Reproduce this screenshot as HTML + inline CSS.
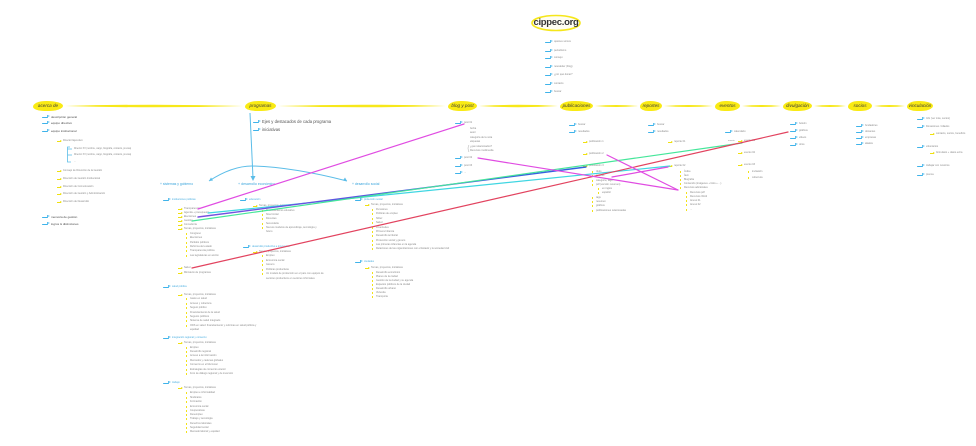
<!DOCTYPE html>
<html><head><meta charset="utf-8">
<style>
*{margin:0;padding:0;box-sizing:border-box}
body{width:976px;height:446px;background:#fff;position:relative;overflow:hidden;font-family:"Liberation Sans",sans-serif}
.a{position:absolute;white-space:nowrap;line-height:4px;height:4px;font-size:2.5px;color:#8a8a8a}
.ib{padding-left:9px}
.ib::before{content:"";position:absolute;left:0;top:1.6px;width:6px;height:1px;background:#3fb3ea;border-radius:1px}
.ib::after{content:"";position:absolute;left:5px;top:0.4px;border-left:3px solid #3fb3ea;border-top:1.7px solid transparent;border-bottom:1.7px solid transparent}
.iy{padding-left:6px}
.iy::before{content:"";position:absolute;left:0;top:1.6px;width:3.5px;height:1px;background:#efe010}
.iy::after{content:"";position:absolute;left:3px;top:0.7px;border-left:2px solid #efe010;border-top:1.4px solid transparent;border-bottom:1.4px solid transparent}
.is{padding-left:4px}
.is::before{content:"";position:absolute;left:0;top:0.8px;width:1px;height:2.6px;background:#f2e21a}
.dk{color:#4a4a4a;font-size:3px}
.bl{color:#4aaee0}
.sh{position:absolute;white-space:nowrap;font-size:3.4px;color:#3aa5dc;line-height:5px}
.h{position:absolute;top:101px;height:10px;background:#f9ea14;border-radius:45% 55% 50% 40%/60% 50% 55% 45%;font-size:4.6px;font-style:italic;color:#3a3a3a;text-align:center;line-height:10px;white-space:nowrap}
</style></head><body>

<svg width="976" height="446" style="position:absolute;left:0;top:0">
<ellipse cx="556" cy="23" rx="24" ry="7.5" fill="#fffef2" stroke="#f5e61a" stroke-width="1.6"/>
</svg>
<div style="position:absolute;left:532px;top:17px;width:48px;text-align:center;font-size:9.5px;font-weight:bold;color:#333;line-height:12px;letter-spacing:-0.3px">cippec.org</div>

<div class="a ib" style="left:545px;top:40px">quiénes somos</div>
<div class="a ib" style="left:545px;top:49px">periodismo</div>
<div class="a ib" style="left:545px;top:56px">consejo</div>
<div class="a ib" style="left:545px;top:65px">newsletter (blog)</div>
<div class="a ib" style="left:545px;top:73px">¿por qué donar?</div>
<div class="a ib" style="left:545px;top:82px">contacto</div>
<div class="a ib" style="left:545px;top:90px">buscar</div>

<svg width="976" height="446" style="position:absolute;left:0;top:0">
<g fill="#f7e81a">
<path d="M65 106 Q154 103.4 243 106 Q154 108.6 65 106Z"/>
<path d="M278 106 Q362 103.4 446 106 Q362 108.6 278 106Z"/>
<path d="M479 106 Q518 103.6 558 106 Q518 108.4 479 106Z"/>
<path d="M595 106 Q616 104 638 106 Q616 108 595 106Z"/>
<path d="M664 106 Q688 104 713 106 Q688 108 664 106Z"/>
<path d="M742 106 Q761 104 781 106 Q761 108 742 106Z"/>
<path d="M814 106 Q830 104 846 106 Q830 108 814 106Z"/>
<path d="M874 106 Q889 104 905 106 Q889 108 874 106Z"/>
</g>
</svg>

<div class="h" style="left:33px;width:30px">acerca de</div>
<div class="h" style="left:245px;width:31px">programas</div>
<div class="h" style="left:448px;width:29px">blog y post</div>
<div class="h" style="left:560px;width:33px">publicaciones</div>
<div class="h" style="left:640px;width:22px">reportes</div>
<div class="h" style="left:715px;width:25px">eventos</div>
<div class="h" style="left:783px;width:29px">divulgación</div>
<div class="h" style="left:848px;width:24px">socios</div>
<div class="h" style="left:907px;width:26px">vinculación</div>

<div class="a ib dk" style="left:42px;top:115px">descripción general</div>
<div class="a ib dk" style="left:42px;top:121px">equipo directivo</div>
<div class="a ib dk" style="left:42px;top:129px">equipo institucional</div>
<div class="a iy" style="left:57px;top:139px">Director Ejecutivo</div>
<div class="a" style="left:74px;top:147px;font-size:2.3px">Director XX (nombre, cargo, biografía, contacto, prensa)</div>
<div class="a" style="left:74px;top:153px;font-size:2.3px">Director XX (nombre, cargo, biografía, contacto, prensa)</div>
<div class="a" style="left:74px;top:160px;font-size:2.3px">...</div>
<div class="a iy" style="left:57px;top:169px">Consejo de Dirección de la Gestión</div>
<div class="a iy" style="left:57px;top:177px">Dirección de Gestión Institucional</div>
<div class="a iy" style="left:57px;top:185px">Dirección de Comunicación</div>
<div class="a iy" style="left:57px;top:192px">Dirección de Gestión y Administración</div>
<div class="a iy" style="left:57px;top:200px">Dirección de Desarrollo</div>
<div class="a ib dk" style="left:42px;top:215px">memoria de gestión</div>
<div class="a ib dk" style="left:42px;top:222px">logros &amp; distinciones</div>

<div class="a ib" style="left:253px;top:120px;font-size:4.2px;color:#555;line-height:4px">Ejes y destacados de cada programa</div>
<div class="a ib" style="left:253px;top:128px;font-size:4.2px;color:#555;line-height:4px">iniciativas</div>

<div class="sh" style="left:160px;top:182px">+ sistemas y gobierno</div>
<div class="sh" style="left:238px;top:182px;font-size:3.6px">+ desarrollo económico</div>
<div class="sh" style="left:352px;top:182px">+ desarrollo social</div>

<div class="a ib bl" style="left:163px;top:198px">instituciones políticas</div>
<div class="a iy" style="left:178px;top:207px">Transparencia</div>
<div class="a iy" style="left:178px;top:211px">Agenda + presupuesto</div>
<div class="a iy" style="left:178px;top:215px">Elecciones</div>
<div class="a iy" style="left:178px;top:219px">Gestión</div>
<div class="a iy" style="left:178px;top:223px">Consultoría</div>
<div class="a iy" style="left:178px;top:227px">Temas, proyectos, iniciativas</div>
<div class="a is" style="left:186px;top:232px">Congreso</div>
<div class="a is" style="left:186px;top:236px">Elecciones</div>
<div class="a is" style="left:186px;top:241px">Partidos políticos</div>
<div class="a is" style="left:186px;top:245px">Reforma del estado</div>
<div class="a is" style="left:186px;top:249px">Transparencia política</div>
<div class="a is" style="left:186px;top:254px">Las legislaturas en acción</div>
<div class="a iy" style="left:178px;top:266px">Salud</div>
<div class="a iy" style="left:178px;top:271px">Ministerio de programas</div>

<div class="a ib bl" style="left:240px;top:198px">educación</div>
<div class="a iy" style="left:253px;top:204px">Temas, proyectos, iniciativas</div>
<div class="a is" style="left:262px;top:209px">Financiamiento educativo</div>
<div class="a is" style="left:262px;top:213px">Nivel inicial</div>
<div class="a is" style="left:262px;top:217px">Docentes</div>
<div class="a is" style="left:262px;top:222px">Secundaria</div>
<div class="a is" style="left:262px;top:226px">Nuevos modelos de aprendizaje, tecnología y</div>
<div class="a" style="left:266px;top:230px">futuro</div>
<div class="a ib bl" style="left:243px;top:245px">desarrollo productivo e innovación</div>
<div class="a iy" style="left:253px;top:250px">Temas, proyectos, iniciativas</div>
<div class="a is" style="left:262px;top:254px">Empleo</div>
<div class="a is" style="left:262px;top:259px">Economía social</div>
<div class="a is" style="left:262px;top:263px">Género</div>
<div class="a is" style="left:262px;top:268px">Políticas productivas</div>
<div class="a is" style="left:262px;top:272px">Un modelo de producción en el país con equipos de</div>
<div class="a" style="left:266px;top:277px">sectores productivos en sectores informales</div>

<div class="a ib bl" style="left:355px;top:198px">protección social</div>
<div class="a iy" style="left:365px;top:203px">Temas, proyectos, iniciativas</div>
<div class="a is" style="left:372px;top:208px">Pensiones</div>
<div class="a is" style="left:372px;top:212px">Políticas de empleo</div>
<div class="a is" style="left:372px;top:217px">Niñez</div>
<div class="a is" style="left:372px;top:221px">Salud</div>
<div class="a is" style="left:372px;top:226px">Juventudes</div>
<div class="a is" style="left:372px;top:230px">Primera Infancia</div>
<div class="a is" style="left:372px;top:234px">Desarrollo territorial</div>
<div class="a is" style="left:372px;top:239px">Protección social y género</div>
<div class="a is" style="left:372px;top:243px">Las primeras infancias en la agenda</div>
<div class="a is" style="left:372px;top:247px">Relaciones de las organizaciones con el Estado y la sociedad civil</div>
<div class="a ib bl" style="left:355px;top:260px">ciudades</div>
<div class="a iy" style="left:365px;top:266px">Temas, proyectos, iniciativas</div>
<div class="a is" style="left:372px;top:271px">Desarrollo económico</div>
<div class="a is" style="left:372px;top:275px">Planes de la ciudad</div>
<div class="a is" style="left:372px;top:279px">Gestión de la ciudad y su agenda</div>
<div class="a is" style="left:372px;top:283px">Espacios públicos de la ciudad</div>
<div class="a is" style="left:372px;top:287px">Desarrollo urbano</div>
<div class="a is" style="left:372px;top:291px">Vivienda</div>
<div class="a is" style="left:372px;top:295px">Transporte</div>

<div class="a ib bl" style="left:163px;top:285px">salud pública</div>
<div class="a iy" style="left:178px;top:293px">Temas, proyectos, iniciativas</div>
<div class="a is" style="left:186px;top:297px">Gasto en salud</div>
<div class="a is" style="left:186px;top:302px">Acceso y cobertura</div>
<div class="a is" style="left:186px;top:306px">Seguro público</div>
<div class="a is" style="left:186px;top:311px">Financiamiento de la salud</div>
<div class="a is" style="left:186px;top:315px">Seguros públicos</div>
<div class="a is" style="left:186px;top:319px">Sistema de salud integrado</div>
<div class="a is" style="left:186px;top:324px">ODS en salud: financiamiento y reformas en salud pública y</div>
<div class="a" style="left:190px;top:328px">equidad</div>
<div class="a ib bl" style="left:163px;top:336px">integración regional y comercio</div>
<div class="a iy" style="left:178px;top:341px">Temas, proyectos, iniciativas</div>
<div class="a is" style="left:186px;top:346px">Empleo</div>
<div class="a is" style="left:186px;top:350px">Desarrollo regional</div>
<div class="a is" style="left:186px;top:354px">Acceso a la información</div>
<div class="a is" style="left:186px;top:359px">Mercados y cadenas globales</div>
<div class="a is" style="left:186px;top:363px">Comercio en el Mercosur</div>
<div class="a is" style="left:186px;top:368px">Estrategias de comercio exterior</div>
<div class="a is" style="left:186px;top:372px">Foro de diálogo regional y de inversión</div>
<div class="a ib bl" style="left:163px;top:381px">trabajo</div>
<div class="a iy" style="left:178px;top:386px">Temas, proyectos, iniciativas</div>
<div class="a is" style="left:186px;top:391px">Empleo e informalidad</div>
<div class="a is" style="left:186px;top:396px">Sindicatos</div>
<div class="a is" style="left:186px;top:400px">Formación</div>
<div class="a is" style="left:186px;top:405px">Economía social</div>
<div class="a is" style="left:186px;top:409px">Cooperativas</div>
<div class="a is" style="left:186px;top:413px">Desempleo</div>
<div class="a is" style="left:186px;top:417px">Trabajo y tecnología</div>
<div class="a is" style="left:186px;top:422px">Derechos laborales</div>
<div class="a is" style="left:186px;top:426px">Seguridad social</div>
<div class="a is" style="left:186px;top:430px">Mercado laboral y equidad</div>

<div class="a ib" style="left:455px;top:121px">post 01</div>
<div class="a" style="left:470px;top:127px">fecha</div>
<div class="a" style="left:470px;top:131px">autor</div>
<div class="a" style="left:470px;top:136px">categoría de la nota</div>
<div class="a" style="left:470px;top:140px">etiquetas</div>
<div class="a" style="left:470px;top:145px">¿qué relacionados?</div>
<div class="a" style="left:470px;top:149px">Recursos multimedia</div>
<div class="a ib" style="left:455px;top:156px">post 02</div>
<div class="a ib" style="left:455px;top:164px">post 03</div>
<div class="a ib" style="left:455px;top:171px">...</div>

<div class="a ib" style="left:569px;top:123px">buscar</div>
<div class="a ib" style="left:569px;top:130px">resultados</div>
<div class="a iy" style="left:583px;top:140px">publicación 1</div>
<div class="a iy" style="left:583px;top:152px">publicación 2</div>
<div class="a iy" style="left:583px;top:164px">publicación 3</div>
<div class="a is" style="left:592px;top:170px">título</div>
<div class="a is" style="left:592px;top:174px">autores</div>
<div class="a is" style="left:592px;top:179px">categoría, tags</div>
<div class="a is" style="left:592px;top:183px">pdf (versión resumen)</div>
<div class="a is" style="left:598px;top:187px">en inglés</div>
<div class="a is" style="left:598px;top:191px">español</div>
<div class="a is" style="left:592px;top:196px">tags</div>
<div class="a is" style="left:592px;top:200px">resumen</div>
<div class="a is" style="left:592px;top:204px">gráficos</div>
<div class="a is" style="left:592px;top:209px">publicaciones relacionadas</div>

<div class="a ib" style="left:648px;top:123px">buscar</div>
<div class="a ib" style="left:648px;top:130px">resultados</div>
<div class="a iy" style="left:668px;top:140px">reporte 01</div>
<div class="a iy" style="left:668px;top:164px">reporte 02</div>
<div class="a is" style="left:680px;top:170px">Índice</div>
<div class="a is" style="left:680px;top:174px">Ítem</div>
<div class="a is" style="left:680px;top:178px">Biografía</div>
<div class="a is" style="left:680px;top:182px">Contenido (imágenes + links + ...)</div>
<div class="a is" style="left:680px;top:186px">Recursos adicionales</div>
<div class="a is" style="left:686px;top:191px">Recursos pdf</div>
<div class="a is" style="left:686px;top:195px">Recursos Word</div>
<div class="a is" style="left:686px;top:199px">Anexo 01</div>
<div class="a is" style="left:686px;top:203px">Anexo 02</div>
<div class="a is" style="left:686px;top:208px">...</div>

<div class="a ib" style="left:725px;top:130px">calendario</div>
<div class="a" style="left:728px;top:139px;font-size:2.2px">evento</div>
<div class="a iy" style="left:738px;top:139px">evento 01</div>
<div class="a iy" style="left:738px;top:151px">evento 02</div>
<div class="a iy" style="left:738px;top:163px">evento 03</div>
<div class="a is" style="left:748px;top:170px">invitación</div>
<div class="a is" style="left:748px;top:176px">cobertura</div>

<div class="a ib" style="left:790px;top:122px">boletín</div>
<div class="a ib" style="left:790px;top:129px">gráficos</div>
<div class="a ib" style="left:790px;top:136px">videos</div>
<div class="a ib" style="left:790px;top:143px">otros</div>

<div class="a ib" style="left:856px;top:124px">fundadores</div>
<div class="a ib" style="left:856px;top:130px">donantes</div>
<div class="a ib" style="left:856px;top:136px">empresas</div>
<div class="a ib" style="left:856px;top:142px">aliados</div>

<div class="a ib" style="left:917px;top:117px">Info (ver más, socios)</div>
<div class="a ib" style="left:917px;top:125px">Donaciones / Aliados</div>
<div class="a iy" style="left:930px;top:132px">contacto, socios, beneficio</div>
<div class="a ib" style="left:917px;top:145px">voluntarios</div>
<div class="a iy" style="left:930px;top:151px">formulario + datos extra</div>
<div class="a ib" style="left:917px;top:164px">trabajar con nosotros</div>
<div class="a ib" style="left:917px;top:173px">prensa</div>

<svg width="976" height="446" style="position:absolute;left:0;top:0">
<defs>
<linearGradient id="pb" x1="198" y1="217" x2="586" y2="167" gradientUnits="userSpaceOnUse">
<stop offset="0" stop-color="#7a4fe0"/><stop offset="1" stop-color="#2f63df"/>
</linearGradient>
</defs>
<g stroke="#5bbde8" stroke-width="1" fill="none">
<path d="M250 113 L253 178"/>
<path d="M209 181 Q232 166 252 166"/>
<path d="M252 166 Q292 167 347 181"/>
</g>
<path d="M250.5 176 L253 181 L255.5 176Z" fill="#5bbde8"/>
<path d="M209 181 L211 177.5 L213 180.5Z" fill="#5bbde8"/>
<path d="M347 181 L343 180.5 L345 177.5Z" fill="#5bbde8"/>
<path d="M70 147 L67.5 147 L67.5 162 L71 162 M67.5 149 L72 149 M67.5 155 L72 155" stroke="#5bbde8" stroke-width="0.8" fill="none"/>
<path d="M469 145 Q467 148 469 152" stroke="#aaa" stroke-width="0.5" fill="none"/>

<g fill="none" stroke-width="1.2" stroke-linecap="round">
<line x1="198" y1="209" x2="464" y2="124" stroke="#e04ce2"/>
<line x1="208" y1="213" x2="670" y2="166" stroke="#3fd6e2"/>
<line x1="198" y1="217" x2="586" y2="167" stroke="url(#pb)" stroke-width="1.4"/>
<line x1="192" y1="221" x2="742" y2="143" stroke="#45e69a"/>
<line x1="192" y1="268" x2="788" y2="132" stroke="#e2435f"/>
<line x1="478" y1="158" x2="678" y2="190" stroke="#e04ce2"/>
<line x1="607" y1="155" x2="678" y2="190" stroke="#e04ce2"/>
<line x1="612" y1="177" x2="668" y2="167" stroke="#e04ce2"/>
</g>
</svg>
</body></html>
